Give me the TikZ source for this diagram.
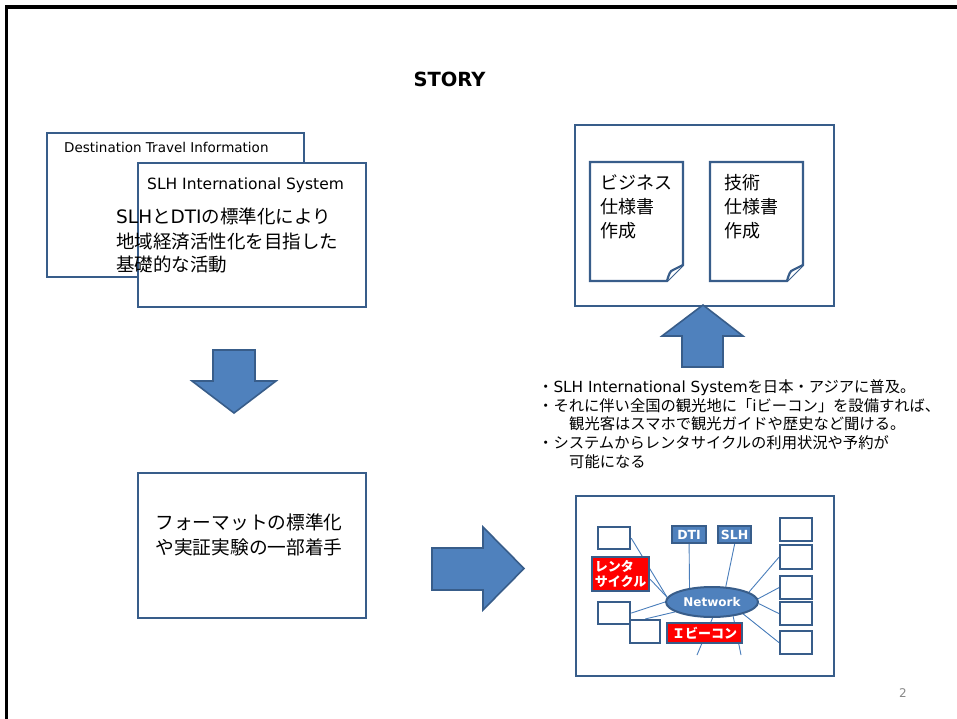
\documentclass[tikz,border=0pt]{standalone}
\usepackage{fontspec}
\setmainfont{DejaVu Sans}
\newfontfamily\jp{Noto Sans CJK JP}
\usetikzlibrary{shapes.geometric,calc}
\definecolor{bordc}{RGB}{56,93,138}
\definecolor{arrf}{RGB}{79,129,189}
\definecolor{lnc}{RGB}{74,126,187}
\definecolor{pgnum}{RGB}{137,137,137}
\pgfdeclarelayer{bg}
\pgfdeclarelayer{lines}
\pgfsetlayers{bg,lines,main}
\tikzset{
 bx/.style={draw=bordc, line width=2.2pt, fill=white, anchor=north west, inner sep=0pt},
 rb/.style={bx, fill=red, text=white, font=\jp\bfseries\fontsize{13}{15}\selectfont, align=left},
 bb/.style={bx, fill=arrf, text=white, font=\bfseries\fontsize{12.5}{14}\selectfont},
 arr/.style={draw=bordc, line width=1.6pt, fill=arrf, line join=miter},
 docst/.style={draw=bordc, line width=2.2pt, fill=white, line join=miter},
 conn/.style={draw=lnc, line width=0.9pt},
 tx/.style={inner sep=0pt, anchor=base west},
}
\begin{document}
\begin{tikzpicture}[x=1pt,y=-1pt]
\useasboundingbox (0,0) rectangle (957,719);
\begin{pgfonlayer}{bg}
\fill[white] (0,0) rectangle (957,719);
\end{pgfonlayer}
% slide frame
\draw[line width=3.6pt] (6.5,719) -- (6.5,7) -- (957,7);

% title
\node[inner sep=0pt, anchor=base, font=\bfseries\fontsize{19.5}{22}\selectfont] (title) at (449.5,87) {STORY};

% top-left boxes
\node[bx, minimum width=257pt, minimum height=144pt] (dti) at (46,132) {};
\node[tx, font=\fontsize{13.5}{16}\selectfont] (dtit) at (64,152.8) {Destination Travel Information};
\node[bx, minimum width=228pt, minimum height=144pt] (slh) at (137,162) {};
\node[tx, font=\fontsize{15.5}{18}\selectfont] (slht) at (147,189.4) {SLH International System};
\node[tx, font=\fontsize{18.5}{22}\selectfont] (j1) at (116,224) {SLH{\jp と}DTI{\jp の標準化により}};
\node[tx, font=\jp\fontsize{18.5}{22}\selectfont] (j2) at (116,248) {地域経済活性化を目指した};
\node[tx, font=\jp\fontsize{18.5}{22}\selectfont] (j3) at (116,271) {基礎的な活動};

% down arrow
\draw[arr] (213,350) -- (255,350) -- (255,381) -- (276,381) -- (234,413) -- (192,381) -- (213,381) -- cycle;

% bottom-left box
\node[bx, minimum width=228pt, minimum height=145pt] (fmt) at (137,472) {};
\node[inner sep=0pt, anchor=base, font=\jp\fontsize{18.7}{22}\selectfont] (f1) at (249,529) {フォーマットの標準化};
\node[inner sep=0pt, anchor=base, font=\jp\fontsize{18.7}{22}\selectfont] (f2) at (249,554) {や実証実験の一部着手};

% right arrow
\draw[arr] (432,548) -- (483,548) -- (483,527) -- (524,568.5) -- (483,610) -- (483,590) -- (432,590) -- cycle;

% top-right box with documents
\node[bx, minimum width=259pt, minimum height=181pt] (topr) at (574,124) {};
\draw[docst] (590,162) -- (683,162) -- (683,265) -- (667,281) -- (590,281) -- cycle;
\draw[docst] (667,281) .. controls (669,274) and (670,271) .. (673,270) -- (683,265);
\draw[docst] (710,162) -- (803,162) -- (803,265) -- (787,281) -- (710,281) -- cycle;
\draw[docst] (787,281) .. controls (789,274) and (790,271) .. (793,270) -- (803,265);
\node[tx, font=\jp\fontsize{18}{22}\selectfont] (d11) at (600,190) {ビジネス};
\node[tx, font=\jp\fontsize{18}{22}\selectfont] (d12) at (600,214) {仕様書};
\node[tx, font=\jp\fontsize{18}{22}\selectfont] (d13) at (600,237) {作成};
\node[tx, font=\jp\fontsize{18}{22}\selectfont] (d21) at (724,190) {技術};
\node[tx, font=\jp\fontsize{18}{22}\selectfont] (d22) at (724,214) {仕様書};
\node[tx, font=\jp\fontsize{18}{22}\selectfont] (d23) at (724,237) {作成};

% up arrow
\draw[arr] (682,367) -- (682,336) -- (662,336) -- (703,305) -- (743,336) -- (723,336) -- (723,367) -- cycle;

% bullet text
\node[tx, font=\fontsize{15.3}{18}\selectfont] (b1t) at (538,392) {{\jp ・}SLH International System{\jp を日本・アジアに普及。}};
\node[tx, font=\fontsize{15.3}{18}\selectfont] (b2t) at (538,411) {{\jp ・それに伴い全国の観光地に「}i{\jp ビーコン」を設備すれば、}};
\node[tx, font=\jp\fontsize{15.3}{18}\selectfont] (b3t) at (569,429) {観光客はスマホで観光ガイドや歴史など聞ける。};
\node[tx, font=\jp\fontsize{15.3}{18}\selectfont] (b4t) at (538,448) {・システムからレンタサイクルの利用状況や予約が};
\node[tx, font=\jp\fontsize{15.3}{18}\selectfont] (b5t) at (569,467) {可能になる};

% bottom-right network box (frame under the connectors)
\begin{pgfonlayer}{bg}
\node[bx, minimum width=258pt, minimum height=180pt] (botr) at (575,495) {};
\end{pgfonlayer}
\node[bx, minimum width=32pt, minimum height=22pt] (l1) at (597,526) {};
\node[rb, minimum width=57pt, minimum height=34pt] (rent) at (591,556) {レンタ\\サイクル};
\node[bx, minimum width=32pt, minimum height=22pt] (l2) at (597,601) {};
\node[bx, minimum width=30pt, minimum height=23pt] (l3) at (629,619) {};
\node[bb, minimum width=34pt, minimum height=17pt] (dtib) at (671,525) {DTI};
\node[bb, minimum width=33pt, minimum height=17pt] (slhb) at (717,525) {SLH};
\node[ellipse, draw=bordc, line width=2pt, fill=arrf, text=white, inner sep=0pt,
      minimum width=92pt, minimum height=30pt, font=\bfseries\fontsize{12}{13}\selectfont] (net) at (712,602) {Network};
\node[rb, minimum width=75pt, minimum height=20pt, align=center] (ibc) at (666,622) {Ｉビーコン};
\node[bx, minimum width=32pt, minimum height=23pt] (r1) at (779,517) {};
\node[bx, minimum width=32pt, minimum height=24pt] (r2) at (779,544) {};
\node[bx, minimum width=32pt, minimum height=23pt] (r3) at (779,575) {};
\node[bx, minimum width=32pt, minimum height=23pt] (r4) at (779,601) {};
\node[bx, minimum width=32pt, minimum height=23pt] (r5) at (779,630) {};
\coordinate (e1) at (697,655);
\coordinate (e2) at (741,655);

\begin{pgfonlayer}{lines}
\draw[conn] (l1.east) -- (net.174);
\draw[conn] (rent.-10) -- (net.174);
\draw[conn] (l2.east) -- (net.180);
\draw[conn] (l3.north) -- (net.195);
\draw[conn] (dtib.south) -- (net.148);
\draw[conn] (slhb.south) -- (net.48);
\draw[conn] (r2.west) -- (net.15);
\draw[conn] (r3.west) -- (net.4);
\draw[conn] (r4.west) -- (net.-2);
\draw[conn] (r5.west) -- (net.-21);
\draw[conn] (net.-88) -- (e1);
\draw[conn] (net.-34) -- (e2);
\end{pgfonlayer}

% page number
\node[inner sep=0pt, anchor=base, text=pgnum, font=\fontsize{12}{14}\selectfont] (pg) at (903,697) {2};
\end{tikzpicture}
\end{document}
